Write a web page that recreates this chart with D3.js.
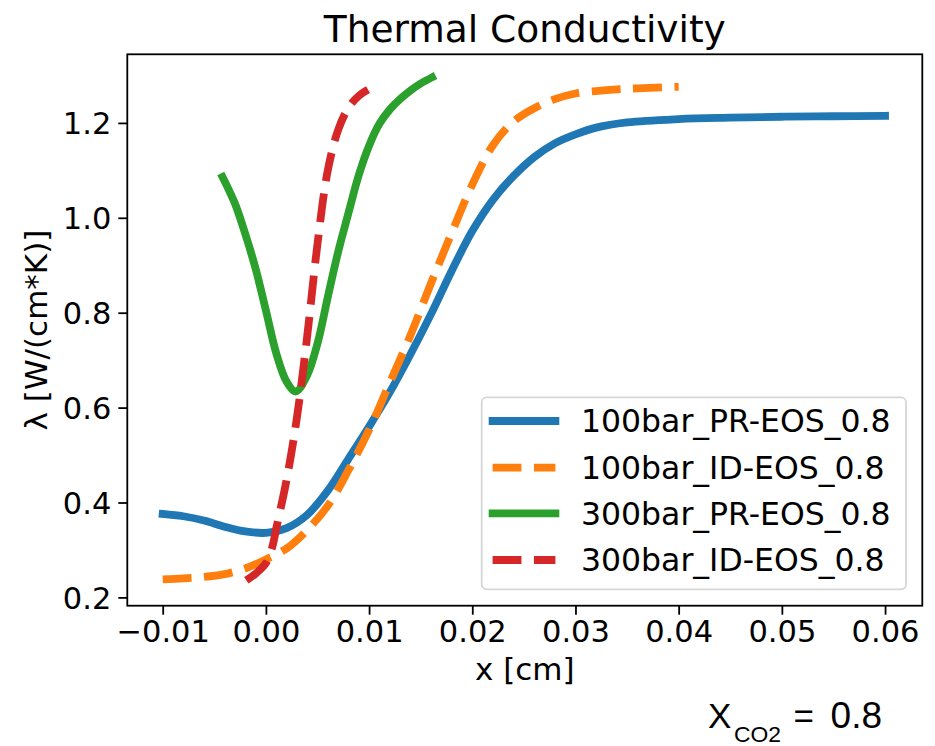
<!DOCTYPE html>
<html>
<head>
<meta charset="utf-8">
<script src="https://cdn.jsdelivr.net/npm/d3@7"></script>
<style>
  html, body { margin: 0; padding: 0; background: #ffffff; }
  svg { display: block; }
</style>
</head>
<body>
<svg id="chart" width="935" height="746"></svg>
<script>
// Thermal conductivity profiles across the mixing layer, X_CO2 = 0.8

const seriesNames = [
  "100bar_PR-EOS_0.8",
  "100bar_ID-EOS_0.8",
  "300bar_PR-EOS_0.8",
  "300bar_ID-EOS_0.8"
];
const seriesColors = ["#1f77b4", "#ff7f0e", "#2ca02c", "#d62728"];
const seriesDashed = [false, true, false, true];

// 100 bar, Peng-Robinson EOS
const x100PR = [-0.010, -0.008, -0.006, -0.004, -0.002, 0.000, 0.002, 0.004, 0.006, 0.008,
                0.010, 0.012, 0.014, 0.016, 0.018, 0.020, 0.022, 0.024, 0.026, 0.028,
                0.030, 0.032, 0.035, 0.040, 0.045, 0.050, 0.055, 0.060];
const y100PR = [0.376, 0.371, 0.362, 0.349, 0.339, 0.336, 0.346, 0.374, 0.425, 0.492,
                0.560, 0.632, 0.712, 0.797, 0.888, 0.972, 1.038, 1.088, 1.128, 1.157,
                1.176, 1.190, 1.201, 1.208, 1.211, 1.213, 1.214, 1.215];

// 100 bar, ideal-gas EOS
const x100ID = [-0.010, -0.008, -0.006, -0.004, -0.002, 0.000, 0.002, 0.004, 0.006, 0.008,
                0.010, 0.012, 0.014, 0.016, 0.018, 0.020, 0.022, 0.024, 0.026, 0.028,
                0.030, 0.033, 0.036, 0.040];
const y100ID = [0.238, 0.240, 0.243, 0.249, 0.261, 0.280, 0.303, 0.342, 0.393, 0.468,
                0.553, 0.652, 0.752, 0.862, 0.968, 1.070, 1.153, 1.203, 1.231, 1.250,
                1.262, 1.269, 1.273, 1.276];

// 300 bar, Peng-Robinson EOS
const x300PR = [-0.0042, -0.003, -0.002, -0.001, 0.000, 0.001, 0.002, 0.0029, 0.004, 0.005,
                0.006, 0.007, 0.008, 0.009, 0.010, 0.011, 0.012, 0.013, 0.014, 0.015, 0.0161];
const y300PR = [1.086, 1.030, 0.966, 0.893, 0.805, 0.715, 0.655, 0.634, 0.668, 0.735,
                0.833, 0.928, 1.010, 1.090, 1.152, 1.198, 1.228, 1.250, 1.268, 1.283, 1.296];

// 300 bar, ideal-gas EOS
const x300ID = [-0.0019, -0.001, 0.000, 0.0006, 0.001, 0.002, 0.003, 0.004, 0.005, 0.006,
                0.007, 0.008, 0.009, 0.0099];
const y300ID = [0.236, 0.250, 0.272, 0.305, 0.345, 0.447, 0.578, 0.750, 0.945, 1.100,
                1.185, 1.232, 1.257, 1.270];

const xTicks = [-0.01, 0.00, 0.01, 0.02, 0.03, 0.04, 0.05, 0.06];
const xTickLabels = ["\u22120.01", "0.00", "0.01", "0.02", "0.03", "0.04", "0.05", "0.06"];
const yTicks = [0.2, 0.4, 0.6, 0.8, 1.0, 1.2];
const yTickLabels = ["0.2", "0.4", "0.6", "0.8", "1.0", "1.2"];

const xs = [x100PR, x100ID, x300PR, x300ID];
const ys = [y100PR, y100ID, y300PR, y300ID];
const series = seriesNames.map((name, i) => ({
  name,
  color: seriesColors[i],
  dashed: seriesDashed[i],
  points: xs[i].map((x, j) => [x, ys[i][j]])
}));

// ---- layout ----
const svg = d3.select("#chart");
const frame = { left: 127.3, right: 922.3, top: 54.3, bottom: 605.7 };
const LW = 7.8;
const fontMain = "'DejaVu Sans', sans-serif";

const x = d3.scaleLinear().domain([-0.01343, 0.06361]).range([frame.left, frame.right]);
const y = d3.scaleLinear().domain([0.1825, 1.3446]).range([frame.bottom, frame.top]);

const plot = svg.append("g");
plot.append("defs").append("clipPath").attr("id", "plot-clip")
  .append("rect")
  .attr("x", frame.left).attr("y", frame.top)
  .attr("width", frame.right - frame.left).attr("height", frame.bottom - frame.top);

// ---- curves ----
const line = d3.line()
  .x(d => x(d[0]))
  .y(d => y(d[1]))
  .curve(d3.curveCatmullRom.alpha(0.5));

plot.append("g").attr("clip-path", "url(#plot-clip)")
  .selectAll("path")
  .data(series)
  .join("path")
  .attr("d", d => line(d.points))
  .attr("fill", "none")
  .attr("stroke", d => d.color)
  .attr("stroke-width", LW)
  .attr("stroke-linejoin", "round")
  .attr("stroke-linecap", d => d.dashed ? "butt" : "square")
  .attr("stroke-dasharray", d => d.dashed ? `${3.7 * LW} ${1.6 * LW}` : null);

// ---- axes ----
const xAxis = d3.axisBottom(x)
  .tickValues(xTicks)
  .tickFormat((d, i) => xTickLabels[i])
  .tickSizeInner(9).tickSizeOuter(0).tickPadding(7);
const yAxis = d3.axisLeft(y)
  .tickValues(yTicks)
  .tickFormat((d, i) => yTickLabels[i])
  .tickSizeInner(9).tickSizeOuter(0).tickPadding(7);

const gx = svg.append("g").attr("transform", `translate(0,${frame.bottom})`).call(xAxis);
const gy = svg.append("g").attr("transform", `translate(${frame.left},0)`).call(yAxis);
[gx, gy].forEach(g => {
  g.select(".domain").remove();
  g.selectAll(".tick line").attr("stroke", "#000").attr("stroke-width", 1.8);
  g.selectAll(".tick text")
    .attr("fill", "#000")
    .style("font-family", fontMain)
    .style("font-size", "30.5px");
});
gx.selectAll(".tick text").attr("dy", null).attr("y", 36);
gy.selectAll(".tick text").attr("dy", null).attr("y", 11);

// frame (spines)
svg.append("rect")
  .attr("x", frame.left).attr("y", frame.top)
  .attr("width", frame.right - frame.left).attr("height", frame.bottom - frame.top)
  .attr("fill", "none").attr("stroke", "#000").attr("stroke-width", 1.8);

// ---- titles ----
svg.append("text")
  .attr("x", (frame.left + frame.right) / 2).attr("y", 42)
  .attr("text-anchor", "middle")
  .style("font-family", fontMain).style("font-size", "37.5px")
  .text("Thermal Conductivity");

svg.append("text")
  .attr("x", (frame.left + frame.right) / 2).attr("y", 680)
  .attr("text-anchor", "middle")
  .style("font-family", fontMain).style("font-size", "31px")
  .text("x [cm]");

svg.append("text")
  .attr("transform", `translate(47,${(frame.top + frame.bottom) / 2}) rotate(-90)`)
  .attr("text-anchor", "middle")
  .style("font-family", fontMain).style("font-size", "31px")
  .text("\u03bb [W/(cm*K)]");

// ---- legend ----
const legend = svg.append("g");
legend.append("rect")
  .attr("x", 481.7).attr("y", 397.3).attr("width", 424.3).attr("height", 192)
  .attr("rx", 5).attr("ry", 5)
  .attr("fill", "#fff").attr("fill-opacity", 0.8)
  .attr("stroke", "#d6d6d6").attr("stroke-width", 1.8);

const rowY = [421, 467.7, 513.3, 560];
const items = legend.selectAll("g.item").data(series).join("g").attr("class", "item")
  .attr("transform", (d, i) => `translate(0,${rowY[i]})`);
items.append("line")
  .attr("x1", 492.6).attr("x2", 555.4)
  .attr("stroke", d => d.color)
  .attr("stroke-width", LW)
  .attr("stroke-linecap", d => d.dashed ? "butt" : "square")
  .attr("stroke-dasharray", d => d.dashed ? `${3.7 * LW} ${1.6 * LW}` : null);
items.append("text")
  .attr("x", 581).attr("y", 11.3)
  .style("font-family", fontMain).style("font-size", "31.5px")
  .text(d => d.name);

// ---- composition annotation ----
const note = svg.append("g").style("font-family", "'Liberation Sans', Arial, sans-serif");
note.append("text").attr("x", 708).attr("y", 727.5).style("font-size", "35px").text("X");
note.append("text").attr("x", 734).attr("y", 742).style("font-size", "22px")
  .attr("textLength", 47).attr("lengthAdjust", "spacingAndGlyphs").text("CO2");
note.append("text").attr("x", 793.5).attr("y", 727.5).style("font-size", "35px").text("=");
note.append("text").attr("x", 882).attr("y", 727.5).attr("text-anchor", "end")
  .style("font-size", "37px").text("0.8");
</script>
</body>
</html>
